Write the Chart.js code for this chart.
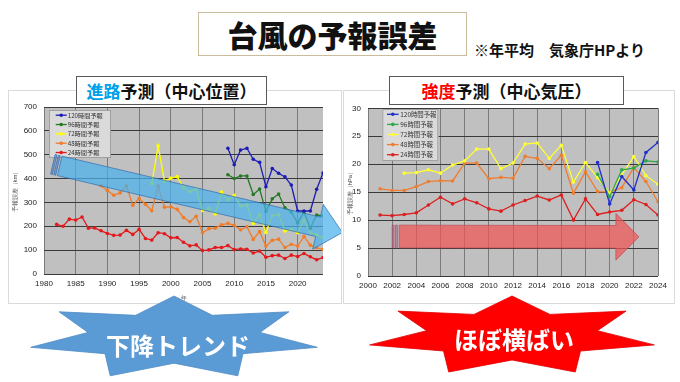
<!DOCTYPE html>
<html><head><meta charset="utf-8">
<script src="https://cdn.jsdelivr.net/npm/chart.js@4/dist/chart.umd.min.js"></script>
<style>
html,body{margin:0;padding:0;background:#fff;}
#stage{position:relative;width:680px;height:382px;overflow:hidden;background:#fff;font-family:"Noto Sans CJK JP","Noto Sans",sans-serif;}
.abs{position:absolute;}
#title{left:198px;top:12px;width:267px;height:42px;border:1px solid #cbbd9b;background:#fff;display:flex;align-items:center;justify-content:center;font-size:30px;font-weight:900;color:#111;z-index:3;}
#note{left:474px;top:39px;font-size:15px;font-weight:700;color:#111;white-space:nowrap;z-index:3;}
.panel{border:1px solid #dadada;background:#fff;z-index:1;}
.sub{background:#fff;border:1px solid #595959;display:flex;align-items:center;justify-content:center;font-size:17px;font-weight:700;color:#111;white-space:nowrap;z-index:3;}
canvas{position:absolute;z-index:2;}
#stars{position:absolute;left:0;top:0;z-index:4;}
.startext{position:absolute;z-index:5;color:#fff;font-size:24px;font-weight:700;white-space:nowrap;transform:translate(-50%,-50%);line-height:1;}
</style></head>
<body><div id="stage">
<div id="title" class="abs">台風の予報誤差</div>
<div id="note" class="abs">※年平均　気象庁HPより</div>
<div class="abs panel" style="left:8px;top:90px;width:332px;height:212px;"></div>
<div class="abs panel" style="left:343px;top:90px;width:330px;height:212px;"></div>
<canvas id="c1" width="333" height="207" style="left:8px;top:95px;width:333px;height:207px;"></canvas>
<canvas id="c2" width="331" height="207" style="left:343px;top:96px;width:331px;height:207px;"></canvas>
<div class="abs sub" style="left:76px;top:76px;width:189px;height:27px;"><span style="color:#00a0e9">進路</span>予測（中心位置）</div>
<div class="abs sub" style="left:389px;top:76px;width:233px;height:27px;"><span style="color:#ff0000">強度</span>予測（中心気圧）</div>
<svg id="stars" width="680" height="382"></svg>
<div class="startext" style="left:178px;top:345px;">下降トレンド</div>
<div class="startext" style="left:514px;top:339px;">ほぼ横ばい</div>
</div>
<script>
// ---------- DATA ----------
const seriesLabels = ['120時間予報','96時間予報','72時間予報','48時間予報','24時間予報'];

// 進路予測 (km), years 1982-2024
const pathYears = [1982,1983,1984,1985,1986,1987,1988,1989,1990,1991,1992,1993,1994,1995,1996,1997,1998,1999,2000,2001,2002,2003,2004,2005,2006,2007,2008,2009,2010,2011,2012,2013,2014,2015,2016,2017,2018,2019,2020,2021,2022,2023,2024];
const path120 = [null,null,null,null,null,null,null,null,null,null,null,null,null,null,null,null,null,null,null,null,null,null,null,null,null,null,null,
  527,458,520,527,481,468,366,442,422,407,373,264,264,264,355,423];
const path96 = [null,null,null,null,null,null,null,null,null,null,null,null,null,null,null,null,null,null,null,null,null,null,null,null,null,null,null,
  416,400,411,411,333,356,263,315,335,277,260,214,260,192,247,243];
const path72 = [null,null,null,null,null,null,null,null,null,null,null,null,null,null,null,
  379,537,389,402,408,362,346,355,266,275,252,343,310,330,285,289,212,249,174,244,249,180,187,173,225,173,164,152];
const path48 = [null,null,null,null,null,null,null,
  370,350,330,340,370,288,316,292,265,369,280,281,271,237,219,242,173,190,192,206,212,204,185,198,145,178,117,141,146,111,125,117,157,121,110,103];
const path24 = [208,200,230,226,239,192,193,181,170,162,163,183,166,187,149,142,173,169,152,153,133,118,122,98,101,111,111,119,102,105,104,88,96,70,77,79,65,79,73,86,72,60,69];
const pathTicks = [1980,1985,1990,1995,2000,2005,2010,2015,2020];

// 強度予測 (hPa), years 2001-2024
const intYears = [2001,2002,2003,2004,2005,2006,2007,2008,2009,2010,2011,2012,2013,2014,2015,2016,2017,2018,2019,2020,2021,2022,2023,2024];
const int120 = [null,null,null,null,null,null,null,null,null,null,null,null,null,null,null,null,null,null,20.3,12.9,17.8,15.4,22.1,23.9];
const int96  = [null,null,null,null,null,null,null,null,null,null,null,null,null,null,null,null,null,null,18.2,14.2,19.0,19.3,20.6,20.4];
const int72  = [null,null,18.4,18.5,19.0,18.4,19.85,20.6,22.7,22.7,19.2,20.2,23.6,23.8,21.05,23.4,16.8,20.3,17.6,14.8,18.1,21.35,17.95,16.4];
const int48  = [15.6,15.3,15.3,16.0,16.9,17.05,17.0,20.2,20.2,17.4,17.65,17.5,21.4,21.05,19.2,21.6,14.8,18.65,15.1,15.0,15.8,19.4,16.9,13.3];
const int24  = [10.9,10.8,11.0,11.3,12.7,14.1,12.9,13.8,13.1,12.0,11.6,12.7,13.5,14.3,13.6,14.5,10.0,13.8,11.0,11.45,11.75,13.65,12.8,10.9];

// ---------- STYLE ----------
const leftColors  = ['#1c1cb4','#237a23','#ffff00','#f07c28','#e3191c'];
const rightColors = ['#2030c8','#2ea84a','#ffff33','#ee7d30','#dd1f1f'];
const TICK_FONT = {family:'"Liberation Sans", Arial, sans-serif', size:8};

function toXY(years, vals){
  const out=[]; years.forEach((y,i)=>{ if(vals[i]!==null) out.push({x:y,y:vals[i]}); }); return out;
}
function mkDatasets(years, list, colors){
  return list.map((vals,i)=>({
    label: seriesLabels[i], data: toXY(years, vals),
    borderColor: colors[i], backgroundColor: colors[i],
    borderWidth: 1.3, pointRadius: 1.8, pointBorderWidth: 0, pointStyle:'circle', tension: 0
  }));
}

function blockArrow(ctx, tail, tip, sw, hw, hl, fill, stroke, stripeCol){
  const dx=tip.x-tail.x, dy=tip.y-tail.y, L=Math.hypot(dx,dy);
  const ux=dx/L, uy=dy/L, nx=-uy, ny=ux;
  const P=(s,t)=>[tail.x+ux*s+nx*t, tail.y+uy*s+ny*t];
  const hb=L-hl, b0=7;
  const poly=(pts)=>{ctx.beginPath(); pts.forEach((p,i)=>i?ctx.lineTo(p[0],p[1]):ctx.moveTo(p[0],p[1])); ctx.closePath();};
  ctx.save();
  ctx.lineWidth=0.8;
  poly([P(b0,-sw),P(hb,-sw),P(hb,-hw),P(L,0),P(hb,hw),P(hb,sw),P(b0,sw)]);
  ctx.fillStyle=fill; ctx.fill(); ctx.strokeStyle=stroke; ctx.stroke();
  [[0,1.8],[3.2,5.2]].forEach(([a,b])=>{
    poly([P(a,-sw),P(b,-sw),P(b,sw),P(a,sw)]);
    ctx.fillStyle=stripeCol; ctx.fill(); ctx.strokeStyle=stroke; ctx.stroke();
  });
  ctx.restore();
}

function mkPlugins(lg, arrow){
  return [{
    id:'plotBg',
    beforeDraw(chart){const {ctx,chartArea:a}=chart; ctx.save(); ctx.fillStyle='#c0c0c0'; ctx.fillRect(a.left,a.top,a.right-a.left,a.bottom-a.top); ctx.restore();}
  },{
    id:'boxLegendArrow',
    afterDraw(chart){
      const {ctx,chartArea:a}=chart;
      const bx=a.left+lg.dx, by=a.top+lg.dy;
      ctx.save();
      ctx.fillStyle='#dadada'; ctx.strokeStyle='#a0a0a0'; ctx.lineWidth=1;
      ctx.fillRect(bx,by,lg.w,lg.h); ctx.strokeRect(bx+0.5,by+0.5,lg.w-1,lg.h-1);
      ctx.font=lg.font+'px "Noto Sans CJK JP", sans-serif'; ctx.textBaseline='middle'; ctx.textAlign='left';
      chart.data.datasets.forEach((ds,i)=>{
        const yy=by+lg.first+i*lg.row;
        ctx.strokeStyle=ds.borderColor; ctx.lineWidth=1.3;
        ctx.beginPath(); ctx.moveTo(bx+lg.l0,yy); ctx.lineTo(bx+lg.l1,yy); ctx.stroke();
        ctx.fillStyle=ds.borderColor; ctx.beginPath(); ctx.arc(bx+(lg.l0+lg.l1)/2,yy,1.8,0,Math.PI*2); ctx.fill();
        ctx.fillStyle='#333'; ctx.fillText(ds.label,bx+lg.tx,yy);
      });
      ctx.restore();
      const xs=chart.scales.x, ys=chart.scales.y;
      const tail={x:xs.getPixelForValue(arrow.tail[0]), y:ys.getPixelForValue(arrow.tail[1])};
      const tip ={x:xs.getPixelForValue(arrow.tip[0]),  y:ys.getPixelForValue(arrow.tip[1])};
      blockArrow(ctx, tail, tip, arrow.sw, arrow.hw, arrow.hl, arrow.fill, arrow.stroke, arrow.stripe);
    }
  }];
}

function mkOptions(xMin,xMax,xStep,yMax,yStep,yTitle,yW,xH,padR,padT){
  return {
    responsive:false, devicePixelRatio:1, animation:false,
    layout:{padding:{left:0,right:padR,top:padT,bottom:0}},
    plugins:{legend:{display:false}, tooltip:{enabled:false}},
    scales:{
      x:{type:'linear', min:xMin, max:xMax,
         ticks:{stepSize:xStep, includeBounds:false, font:TICK_FONT, color:'#222', padding:5, maxRotation:0, callback:v=>String(v)},
         grid:{color:'#7a7a7a', lineWidth:1, drawTicks:false}, border:{display:false},
         title:{display:true, text:'年', font:{size:6}, color:'#444', padding:{top:0,bottom:0}},
         afterFit(s){s.height=xH;}},
      y:{min:0, max:yMax,
         ticks:{stepSize:yStep, font:TICK_FONT, color:'#222', padding:7, callback:v=>String(v)},
         grid:{color:'#3a3a3a', lineWidth:1, drawTicks:false}, border:{display:false},
         title:{display:true, text:yTitle, font:{size:6}, color:'#444', padding:{top:4,bottom:2}},
         afterFit(s){s.width=yW;}}
    }
  };
}

new Chart(document.getElementById('c1'),{
  type:'line',
  data:{datasets: mkDatasets(pathYears,[path120,path96,path72,path48,path24],leftColors)},
  options: mkOptions(pathTicks[0],2024,5,700,100,'予報誤差（km）',36,28,18,12),
  plugins: mkPlugins({dx:5,dy:3,w:62,h:48,first:5.2,row:9.33,l0:6.7,l1:17.7,tx:18.7,font:6.2},
    {tail:[1981.4,460], tip:[2027.05,174], sw:10, hw:23, hl:25,
     fill:'rgba(72,178,235,0.72)', stroke:'rgba(46,110,175,0.9)', stripe:'rgba(90,120,190,0.6)'})
});

new Chart(document.getElementById('c2'),{
  type:'line',
  data:{datasets: mkDatasets(intYears,[int120,int96,int72,int48,int24],rightColors)},
  options: mkOptions(2000,2024,2,30,5,'予報誤差（hPa）',25,27,16,12.3),
  plugins: mkPlugins({dx:14.3,dy:0.7,w:56,h:52,first:5.3,row:10.1,l0:4.7,l1:16.3,tx:18,font:6.4},
    {tail:[2002.0,7.08], tip:[2022.42,7.0], sw:11.3, hw:23.3, hl:23,
     fill:'rgba(240,85,85,0.72)', stroke:'rgba(190,70,80,0.85)', stripe:'rgba(140,110,170,0.55)'})
});

// ---------- decorative 7-point stars ----------
function starPts(cx,cy,rx,ry,ir){
  const pts=[];
  for(let k=0;k<14;k++){const ang=-Math.PI/2+k*Math.PI/7; const r=k%2?ir:1; pts.push((cx+rx*r*Math.cos(ang)).toFixed(1)+','+(cy+ry*r*Math.sin(ang)).toFixed(1));}
  return pts.join(' ');
}
const svg=document.getElementById('stars');
svg.innerHTML =
  '<polygon points="'+starPts(174,338,147,42,0.6)+'" fill="#5b9bd5" stroke="#4f8cc4" stroke-width="0.8"/>'+
  '<polygon points="'+starPts(512,336,146,40,0.6)+'" fill="#ff0000" stroke="#e00000" stroke-width="0.8"/>';
</script>
</body></html>
